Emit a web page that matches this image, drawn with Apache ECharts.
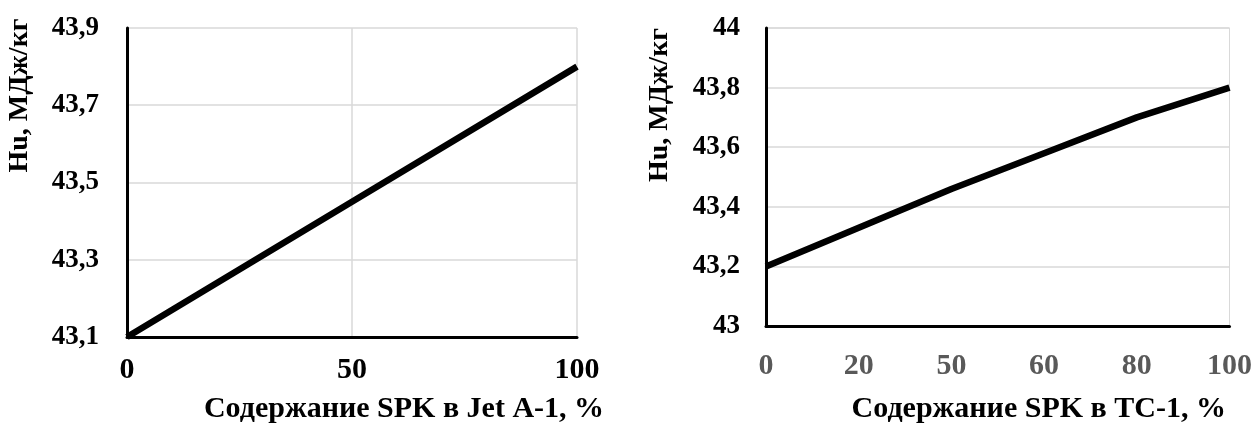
<!DOCTYPE html>
<html>
<head>
<meta charset="utf-8">
<script src="https://cdn.jsdelivr.net/npm/echarts@6/dist/echarts.min.js"></script>
<style>
  html, body { margin: 0; padding: 0; background: #fff; }
  #chart { width: 1255px; height: 429px; }
</style>
</head>
<body>
<div id="chart"></div>
<script>
// left panel: SPK in Jet A-1
const jetX = [0, 50, 100]
const jetHu = [43.1, 43.45, 43.8]

// right panel: SPK in TC-1 (category ticks as printed)
const tcCategories = ['0', '20', '50', '60', '80', '100']
const tcHu = [43.2, 43.33, 43.46, 43.58, 43.7, 43.8]

const yName = 'Hu, МДж/кг'
const jetXName = 'Содержание SPK в Jet A-1, %'
const tcXName = 'Содержание SPK в ТС-1, %'

const font = "'Liberation Serif', 'Times New Roman', serif"
const gridColor = '#d9d9d9'

const chart = echarts.init(document.getElementById('chart'))

const option = {
  animation: false,
  textStyle: { fontFamily: font },
  grid: [
    { left: 127, top: 28, width: 450, height: 311, containLabel: false },
    { left: 766, top: 28, width: 466, height: 305, containLabel: false,
      show: true, borderColor: gridColor, borderWidth: 1 }
  ],
  xAxis: [
    {
      gridIndex: 0,
      type: 'value',
      min: 0, max: 100, interval: 50,
      name: jetXName,
      nameLocation: 'middle',
      nameGap: 57,
      nameTextStyle: { fontSize: 30, fontWeight: 'bold', color: '#000', fontFamily: font, padding: [0, 0, 0, 104] },
      axisLine: { show: true, lineStyle: { color: '#000', width: 3 } },
      axisTick: { show: false },
      axisLabel: { fontSize: 30, fontWeight: 'bold', color: '#000', margin: 18, fontFamily: font },
      splitLine: { show: true, lineStyle: { color: gridColor, width: 1.5 } }
    },
    {
      gridIndex: 1,
      type: 'category',
      data: tcCategories,
      boundaryGap: false,
      name: tcXName,
      nameLocation: 'middle',
      nameGap: 68,
      nameTextStyle: { fontSize: 30, fontWeight: 'bold', color: '#000', fontFamily: font, padding: [0, 0, 0, 82] },
      axisLine: { show: true, lineStyle: { color: '#000', width: 3 } },
      axisTick: { show: false },
      axisLabel: { fontSize: 30, fontWeight: 'bold', color: '#595959', margin: 25, fontFamily: font },
      splitLine: { show: false }
    }
  ],
  yAxis: [
    {
      gridIndex: 0,
      type: 'value',
      min: 43.1, max: 43.9, interval: 0.2,
      name: yName,
      nameLocation: 'middle',
      nameGap: 93,
      nameRotate: 90,
      nameTextStyle: { fontSize: 28, fontWeight: 'bold', color: '#000', fontFamily: font, padding: [0, 0, 0, 174] },
      axisLine: { show: true, lineStyle: { color: '#000', width: 3 } },
      axisTick: { show: false },
      axisLabel: {
        fontSize: 27, fontWeight: 'bold', color: '#000', margin: 28, fontFamily: font,
        formatter: v => v.toFixed(1).replace('.', ',')
      },
      splitLine: { show: true, lineStyle: { color: gridColor, width: 1.5 } }
    },
    {
      gridIndex: 1,
      type: 'value',
      min: 43, max: 44, interval: 0.2,
      name: yName,
      nameLocation: 'middle',
      nameGap: 92,
      nameRotate: 90,
      nameTextStyle: { fontSize: 28, fontWeight: 'bold', color: '#000', fontFamily: font, padding: [0, 0, 0, 144] },
      axisLine: { show: true, lineStyle: { color: '#000', width: 3 } },
      axisTick: { show: false },
      axisLabel: {
        fontSize: 27, fontWeight: 'bold', color: '#000', margin: 26, fontFamily: font,
        formatter: v => (Math.round(v * 10) % 10 === 0 ? String(Math.round(v)) : v.toFixed(1).replace('.', ','))
      },
      splitLine: { show: true, lineStyle: { color: gridColor, width: 1.5 } }
    }
  ],
  series: [
    {
      type: 'line',
      xAxisIndex: 0, yAxisIndex: 0,
      data: jetX.map((x, i) => [x, jetHu[i]]),
      showSymbol: false,
      lineStyle: { color: '#000', width: 6.5 }
    },
    {
      type: 'line',
      xAxisIndex: 1, yAxisIndex: 1,
      data: tcHu,
      showSymbol: false,
      lineStyle: { color: '#000', width: 6.5 }
    }
  ]
}

chart.setOption(option)
window.addEventListener('resize', () => chart.resize())
</script>
</body>
</html>
